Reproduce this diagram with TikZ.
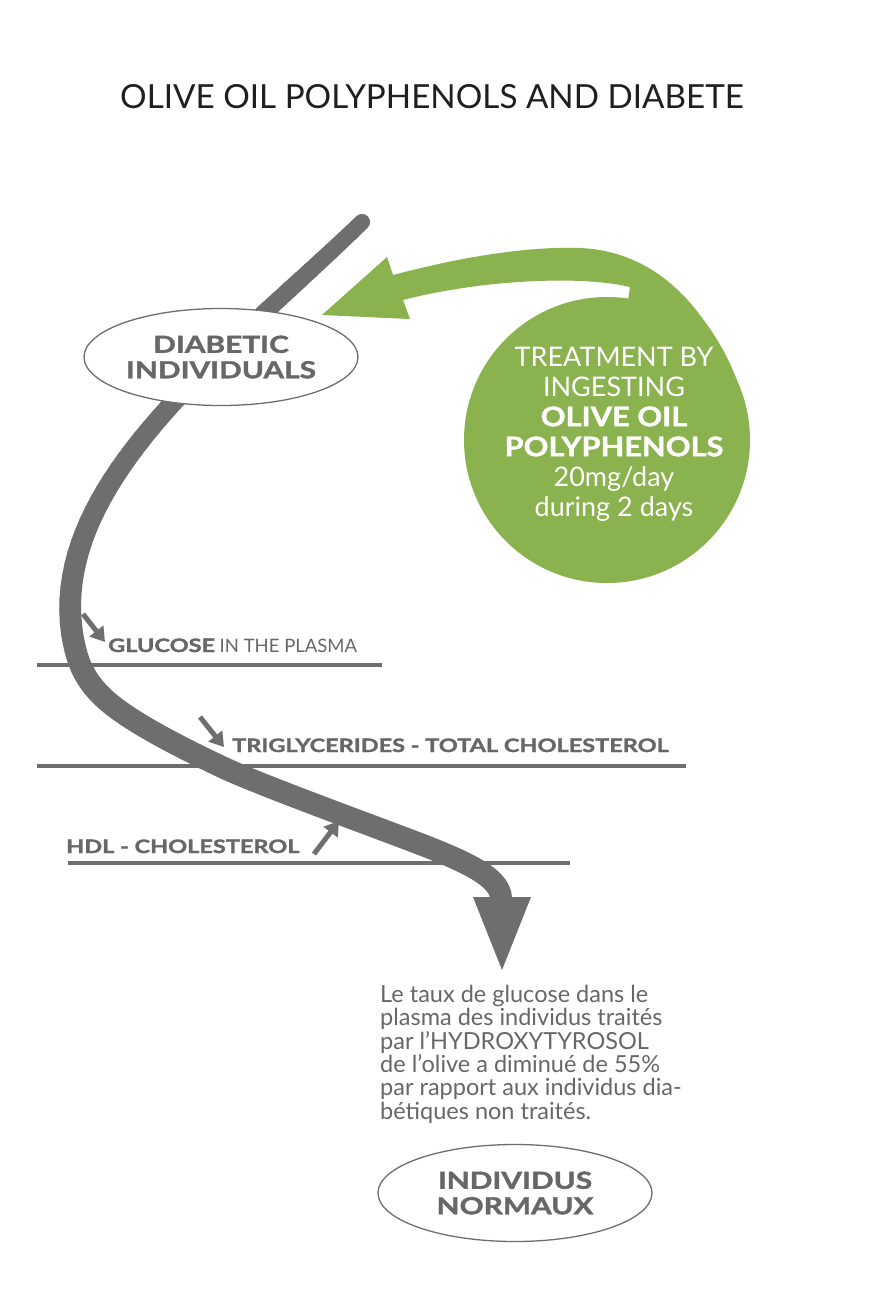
\documentclass[tikz,border=0pt]{standalone}
\usepackage{fontspec}
\setmainfont{Lato}
\newfontfamily\heavy{Lato}[BoldFeatures={FakeBold=1.6,FakeStretch=1.27}]
\newfontfamily\heavyc{Lato}[BoldFeatures={FakeBold=1.4,FakeStretch=1.14}]
\usetikzlibrary{arrows.meta,shapes.geometric}
\definecolor{gr}{HTML}{6E6E6E}
\definecolor{txtgr}{HTML}{676767}
\definecolor{olive}{HTML}{8AB24E}
\begin{document}
\begin{tikzpicture}[x=1pt,y=-1pt,
  hline/.style={draw=gr, line width=3.5pt},
  smallarrow/.style={draw=gr, fill=gr, line width=5pt, -{Triangle[length=14pt,width=17pt]}},
  oval/.style={ellipse, draw=gr, line width=1.3pt, fill=white, minimum width=274pt, minimum height=97pt, inner sep=0pt, text=txtgr, font=\heavy\bfseries\fontsize{23.5}{25.5}\selectfont, align=center},
  lbl/.style={anchor=base west, text=txtgr, inner sep=0pt, font=\fontsize{18.5}{20}\selectfont},
  blbl/.style={lbl, font=\heavy\bfseries\fontsize{18.5}{20}\selectfont},
]
\useasboundingbox[fill=white] (0,0) rectangle (882,1310);

% title
\node[anchor=base, inner sep=0pt, text=black!88, font=\fontsize{33.2}{40}\selectfont] (title) at (432,108) {OLIVE OIL POLYPHENOLS AND DIABETE};

% horizontal level lines
\coordinate (l1a) at (37,665);  \coordinate (l1b) at (382,665);
\coordinate (l2a) at (37,766);  \coordinate (l2b) at (686,766);
\coordinate (l3a) at (68,863);  \coordinate (l3b) at (570,863);
\draw[hline] (l1a) -- (l1b);
\draw[hline] (l2a) -- (l2b);
\draw[hline] (l3a) -- (l3b);

% grey S-shaped arrow: tapered upper part
\path (362,222) .. controls (230,350) and (50,480) .. (72,633)
  \foreach \k in {0,...,40} { coordinate[pos=\k/40] (t\k) };
\foreach \k [remember=\k as \j (initially 0)] in {1,...,40} {
  \pgfmathsetmacro{\w}{16+6*\k/40}
  \draw[gr, line width=\w pt, line cap=round] (t\j) -- (t\k);
}
% lower part
\draw[gr, line width=22pt] (t40) .. controls (76,656.3) and (81,677.7) .. (106,700)
  .. controls (131,722.3) and (181.3,747.7) .. (222,767)
  .. controls (262.7,786.3) and (390,832) .. (433,849)
  .. controls (475,866) and (501,880) .. (501,899);
\fill[gr] (473,897) -- (531,897) -- (502,970) -- cycle;

% green treatment circle and arrow
\node[circle, fill=olive, minimum size=286pt, inner sep=0pt] (treat) at (607,440) {};
\fill[olive] (322,315) -- (387,257) -- (393,275)
  .. controls (450,260) and (520,246) .. (580,248)
  .. controls (630,250) and (670,275) .. (700,315)
  .. controls (725,348) and (745,385) .. (750,440)
  -- (607,440) -- (630,287)
  .. controls (580,275) and (480,280) .. (403,300)
  -- (410,319) -- cycle;
\node[text=white, align=center, inner sep=0pt, font=\fontsize{27}{30}\selectfont] (treattxt) at (614,434)
  {TREATMENT BY\\INGESTING\\{\heavyc\bfseries OLIVE OIL}\\{\heavyc\bfseries POLYPHENOLS}\\20mg/day\\during 2 days};

% ovals
\node[oval] (diab) at (221,357) {DIABETIC\\INDIVIDUALS};
\node[oval] (norm) at (515,1193) {INDIVIDUS\\NORMAUX};

% small arrows
\coordinate (a1s) at (83,614);  \coordinate (a1e) at (105,642);
\coordinate (a2s) at (200,717); \coordinate (a2e) at (224,747);
\coordinate (a3s) at (314,854); \coordinate (a3e) at (339,821);
\draw[smallarrow] (a1s) -- (a1e);
\draw[smallarrow] (a2s) -- (a2e);
\draw[smallarrow] (a3s) -- (a3e);

% labels
\node[lbl] (glu) at (108,652) {{\heavy\bfseries GLUCOSE} IN THE PLASMA};
\node[blbl] (tri) at (232,752) {TRIGLYCERIDES - TOTAL CHOLESTEROL};
\node[blbl] (hdl) at (66,853) {HDL - CHOLESTEROL};

% explanatory paragraph
\node[anchor=north west, inner sep=0pt, align=left, text=txtgr, font=\fontsize{23.5}{23.3}\selectfont] (para) at (380,985)
  {Le taux de glucose dans le\\plasma des individus traités\\par l’HYDROXYTYROSOL\\de l’olive a diminué de 55\%\\par rapport aux individus dia-\\bétiques non traités.};
\end{tikzpicture}
\end{document}
